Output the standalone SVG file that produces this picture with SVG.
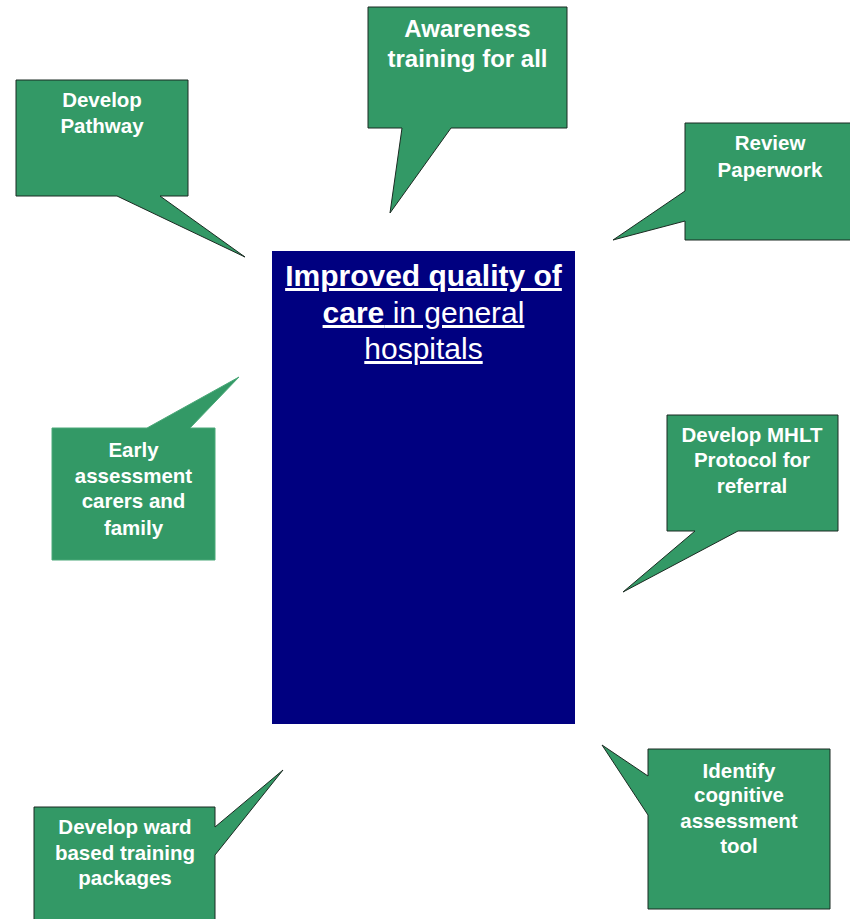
<svg xmlns="http://www.w3.org/2000/svg" width="850" height="919" viewBox="0 0 850 919">
<style>
.call{fill:#339966;stroke:#1b2b22;stroke-width:1;stroke-linejoin:miter}
.lbl{font-family:"Liberation Sans",Arial,sans-serif;font-weight:bold;font-size:20.5px;fill:#ffffff;text-anchor:middle}
.big{font-size:24px}
.main{font-family:"Liberation Sans",Arial,sans-serif;font-size:30px;fill:#ffffff;text-anchor:middle;text-decoration:underline}
</style>
<rect width="850" height="919" fill="#ffffff"/>
<g id="connectors"/>
<g id="center">
<rect x="272" y="251" width="303" height="473" fill="#000080"/>
<text class="main" x="423.5" y="286" font-weight="bold">Improved quality of</text>
<text class="main" x="423.5" y="323"><tspan font-weight="bold">care</tspan> in general</text>
<text class="main" x="423.5" y="359">hospitals</text>
</g>
<g id="develop-pathway">
<path class="call" d="M16,80 H188 V196 H160 L245,257 L117,196 H16 Z"/>
<text class="lbl" x="102" y="107">Develop</text>
<text class="lbl" x="102" y="133">Pathway</text>
</g>
<g id="awareness">
<path class="call" d="M368,7 H567 V128 H451 L390,213 L402,128 H368 Z"/>
<text class="lbl big" x="467.5" y="37">Awareness</text>
<text class="lbl big" x="467.5" y="67">training for all</text>
</g>
<g id="review-paperwork">
<path class="call" d="M685,123 H852 V240 H685 V221 L613,240 L685,191 Z"/>
<text class="lbl" x="770" y="150">Review</text>
<text class="lbl" x="770" y="177">Paperwork</text>
</g>
<g id="early-assessment">
<path class="call" d="M52,428 H147 L239,377 L190,428 H215 V560 H52 Z" style="stroke:#4aa878"/>
<text class="lbl" x="133.5" y="457">Early</text>
<text class="lbl" x="133.5" y="483">assessment</text>
<text class="lbl" x="133.5" y="508">carers and</text>
<text class="lbl" x="133.5" y="535">family</text>
</g>
<g id="mhlt-protocol">
<path class="call" d="M667,415 H838 V531 H738 L623,592 L695,531 H667 Z"/>
<text class="lbl" x="752" y="442">Develop MHLT</text>
<text class="lbl" x="752" y="467">Protocol for</text>
<text class="lbl" x="752" y="493">referral</text>
</g>
<g id="ward-training">
<path class="call" d="M34,807 H215 V827 L283,770 L215,855 V922 H34 Z"/>
<text class="lbl" x="125" y="834">Develop ward</text>
<text class="lbl" x="125" y="860">based training</text>
<text class="lbl" x="125" y="885">packages</text>
</g>
<g id="cognitive-tool">
<path class="call" d="M648,749 H830 V909 H648 V815 L602,745 L648,776 Z"/>
<text class="lbl" x="739" y="778">Identify</text>
<text class="lbl" x="739" y="802">cognitive</text>
<text class="lbl" x="739" y="828">assessment</text>
<text class="lbl" x="739" y="853">tool</text>
</g>
</svg>
